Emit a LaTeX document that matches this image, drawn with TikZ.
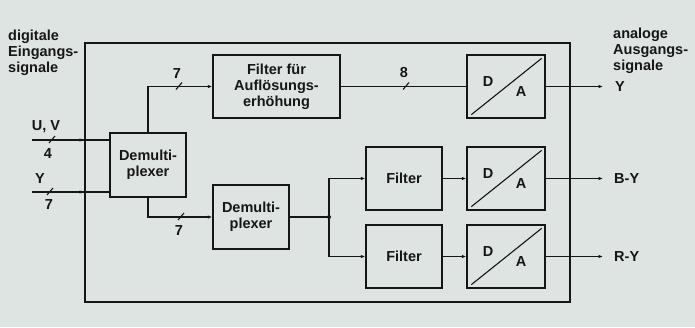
\documentclass[tikz,border=0pt]{standalone}
\usepackage{fontspec}
\setmainfont{Liberation Sans}
\usetikzlibrary{arrows.meta}

\begin{document}
\begin{tikzpicture}[x=1pt,y=-1pt,>={Latex[length=4.5pt,width=3.5pt]},line join=miter,
  font=\fontsize{14.5}{16}\selectfont\bfseries,
  blk/.style={draw=ink,line width=1.3pt,minimum width=76pt,minimum height=63pt,align=center,inner sep=1pt,text=ink},
  dabox/.style={blk,minimum width=78pt},
  sig/.style={draw=ink,line width=1.3pt},
  bustick/.style={draw=ink,line width=1.1pt},
  lab/.style={text=ink,inner sep=0pt,align=left}]

  \definecolor{bg}{RGB}{221,228,226}
  \definecolor{ink}{RGB}{22,22,22}

  \fill[bg] (0,0) rectangle (695,327);
  \useasboundingbox (0,0) rectangle (695,327);

  % ---- outer frame ----
  \node[draw=ink,line width=2pt,minimum width=485pt,minimum height=259pt,inner sep=0pt] (frame) at (327.5,172.5) {};
  \node[lab,anchor=north west] (insig) at (8,30) {digitale\\Eingangs-\\signale};
  \node[lab,anchor=north west] (outsig) at (613,28) {analoge\\Ausgangs-\\signale};

  % ---- blocks ----
  \node[blk,minimum height=64pt] (dm1) at (148,165) {Demulti-\\plexer};
  \node[blk,minimum height=64pt] (dm2) at (251,217) {Demulti-\\plexer};
  \node[blk,minimum width=127pt] (filt) at (276.5,86.5) {Filter für\\Auflösungs-\\erhöhung};
  \node[blk] (fa) at (404,178.5) {Filter};
  \node[blk] (fb) at (404,256.5) {Filter};
  \node[dabox] (da1) at (506,86.5) {};
  \node[dabox] (da2) at (506,178.5) {};
  \node[dabox] (da3) at (506,256.5) {};
  \foreach \n in {da1,da2,da3} {
    \draw[ink,line width=1.1pt] ([shift={(5,-4)}]\n.south west) -- ([shift={(-4,4)}]\n.north east);
    \node[lab] (\n-d) at ([shift={(-18,-4.5)}]\n.center) {D};
    \node[lab] (\n-a) at ([shift={(15,5.5)}]\n.center) {A};
  }

  % ---- inputs ----
  \coordinate (uvin) at (32,140);
  \coordinate (yin) at (32,192);
  \draw[sig] (uvin) -- (uvin -| dm1.west);
  \draw[sig,->] (uvin) -- (uvin -| frame.west);
  \draw[sig] (yin) -- (yin -| dm1.west);
  \draw[sig,->] (yin) -- (yin -| frame.west);
  \node[lab] (uvlab) at (46,127) {U, V};
  \node[lab] (uvnum) at (48,154) {4};
  \node[lab] (ylab) at (40,179) {Y};
  \node[lab] (ynum) at (49,205) {7};

  % ---- inner paths ----
  \draw[sig,->] (dm1.north) |- (filt.west);
  \draw[sig,->] (dm1.south) |- (dm2.west);
  \node[lab] (n1) at (177,74) {7};
  \node[lab] (n2) at (179,231) {7};
  \draw[sig] (filt.east) -- (da1.west);
  \node[lab] (n3) at (404,73) {8};
  \coordinate (jn) at (329,217);
  \draw[sig] (dm2.east) -- (jn);
  \fill[ink] (jn) circle (2);
  \draw[sig,->] (jn) |- (fa.west);
  \draw[sig,->] (jn) |- (fb.west);
  \draw[sig,->] (fa.east) -- (da2.west);
  \draw[sig,->] (fb.east) -- (da3.west);

  % bus slashes
  \foreach \px/\py in {52/140,50/192,179/86.5,181/217,406/86.5} {
    \draw[bustick] (\px-3,\py+3) -- ++(6,-7);
  }

  % ---- outputs ----
  \coordinate (o1) at (603,86.5);
  \coordinate (o2) at (603,178.5);
  \coordinate (o3) at (603,256.5);
  \draw[sig,->] (da1.east) -- (o1);
  \draw[sig,->] (da2.east) -- (o2);
  \draw[sig,->] (da3.east) -- (o3);
  \node[lab,anchor=west] (yout) at (615,86.5) {Y};
  \node[lab,anchor=west] (byout) at (614,178.5) {B-Y};
  \node[lab,anchor=west] (ryout) at (614,256.5) {R-Y};
\end{tikzpicture}
\end{document}
